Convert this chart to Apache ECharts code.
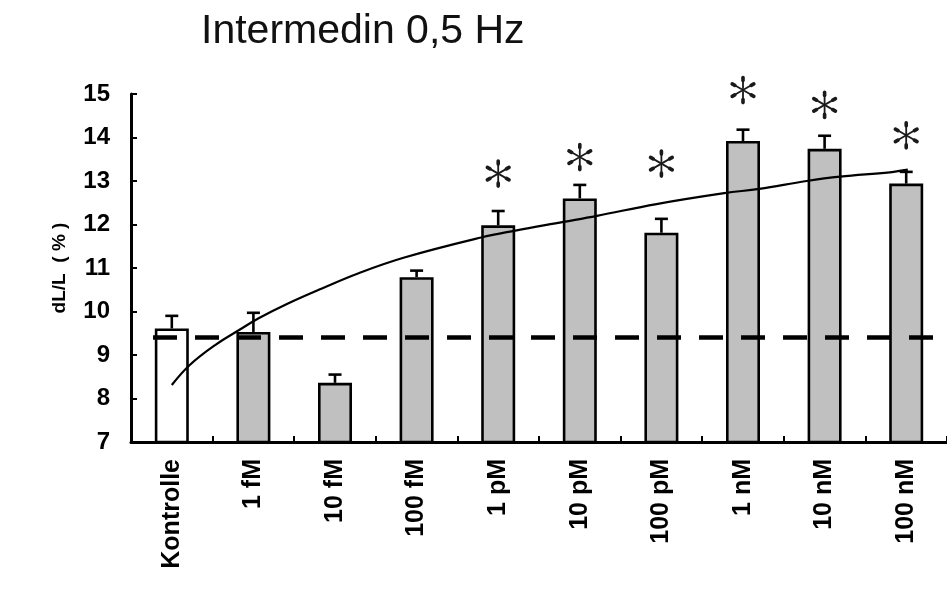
<!DOCTYPE html>
<html>
<head>
<meta charset="utf-8">
<script src="https://cdn.jsdelivr.net/npm/echarts@6/dist/echarts.min.js"></script>
<style>
  html, body { margin: 0; padding: 0; background: #ffffff; }
  #chart { width: 947px; height: 592px; }
</style>
</head>
<body>
<div id="chart"></div>
<script>
// Concentrations of intermedin (plus the untreated control)
var categories = ['Kontrolle', '1 fM', '10 fM', '100 fM', '1 pM', '10 pM', '100 pM', '1 nM', '10 nM', '100 nM'];
// Mean shortening dL/L (%) per group
var means = [9.61, 9.53, 8.36, 10.79, 11.98, 12.60, 11.81, 13.92, 13.74, 12.94];
// Standard error of the mean per group
var errors = [0.29, 0.44, 0.19, 0.15, 0.33, 0.31, 0.32, 0.26, 0.30, 0.27];
// Height at which the significance asterisk sits (null = not significant)
var starLevels = [null, null, null, null, 13.17, 13.55, 13.40, 15.09, 14.75, 14.05];
// Control baseline drawn as the dashed reference line
var baseline = 9.4;
var baselineFrom = -0.23;
var baselineTo = 9.6;
// Concentration-response fit, sampled along the category positions
var fitX = [0, 0.22, 0.54, 0.83, 1.07, 1.43, 1.84, 2.29, 2.85, 3.79, 4.21, 4.80, 5.21, 5.94, 6.77, 7.20, 7.78, 8.19, 8.80, 9.02];
var fitY = [8.31, 8.77, 9.24, 9.58, 9.85, 10.19, 10.53, 10.88, 11.24, 11.70, 11.86, 12.06, 12.20, 12.47, 12.72, 12.82, 13.00, 13.10, 13.20, 13.26];
// Y axis ticks
var yMin = 7, yMax = 15, yStep = 1;

var chart = echarts.init(document.getElementById('chart'), null, { renderer: 'canvas' });

var barData = means.map(function (v, i) {
  return {
    value: v,
    itemStyle: { color: i === 0 ? '#ffffff' : '#c0c0c0' }
  };
});

var errData = means.map(function (v, i) { return [i, v, errors[i]]; });
var starData = [];
starLevels.forEach(function (s, i) { if (s !== null) starData.push([i, s]); });
var fitData = fitX.map(function (x, i) { return [x, fitY[i]]; });

var axisFont = 'Liberation Sans, Arial, sans-serif';

// Six-armed asterisk with slightly swollen tips
function asterisk(cx, cy) {
  var r = 12.5;
  var kids = [];
  for (var k = 0; k < 6; k++) {
    var a = Math.PI / 2 + k * Math.PI / 3;
    var tx = cx + Math.cos(a) * r;
    var ty = cy - Math.sin(a) * r;
    var mx = cx + Math.cos(a) * 2;
    var my = cy - Math.sin(a) * 2;
    kids.push({ type: 'line', shape: { x1: mx, y1: my, x2: tx, y2: ty },
      style: { stroke: '#1a1a1a', lineWidth: 1.8, lineCap: 'round' } });
    var ex = cx + Math.cos(a) * (r - 3);
    var ey = cy - Math.sin(a) * (r - 3);
    kids.push({ type: 'line', shape: { x1: ex, y1: ey, x2: tx, y2: ty },
      style: { stroke: '#1a1a1a', lineWidth: 3.6, lineCap: 'round' } });
  }
  kids.push({ type: 'circle', shape: { cx: cx, cy: cy, r: 1.8 }, style: { fill: '#1a1a1a' } });
  return kids;
}

chart.setOption({
  animation: false,
  backgroundColor: '#ffffff',
  title: {
    text: 'Intermedin 0,5 Hz',
    left: 196,
    top: 6,
    textStyle: {
      fontFamily: axisFont,
      fontWeight: 'normal',
      fontSize: 41,
      color: '#111111'
    }
  },
  grid: { left: 131, right: -6, top: 94, bottom: 150, containLabel: false },
  xAxis: [{
    type: 'category',
    data: categories,
    boundaryGap: true,
    axisLine: { show: true, onZero: false, lineStyle: { color: '#000000', width: 3 } },
    axisTick: { show: true, inside: true, length: 6, lineStyle: { color: '#000000', width: 2 } },
    axisLabel: {
      rotate: 90,
      margin: 17,
      fontFamily: axisFont,
      fontWeight: 'bold',
      fontSize: 25,
      color: '#000000'
    },
    splitLine: { show: false }
  }, {
    type: 'value',
    min: -0.5,
    max: 9.5,
    show: false
  }],
  yAxis: {
    type: 'value',
    min: yMin,
    max: yMax,
    interval: yStep,
    name: 'dL/L  ( % )',
    nameLocation: 'middle',
    nameRotate: 90,
    nameGap: 62,
    nameTextStyle: {
      fontFamily: axisFont,
      fontWeight: 'bold',
      fontSize: 19,
      color: '#000000'
    },
    axisLine: { show: true, onZero: false, lineStyle: { color: '#000000', width: 3 } },
    axisTick: { show: true, inside: true, length: 6, lineStyle: { color: '#000000', width: 2 } },
    axisLabel: {
      margin: 21,
      fontFamily: axisFont,
      fontWeight: 'bold',
      fontSize: 24,
      color: '#000000'
    },
    splitLine: { show: false }
  },
  series: [
    {
      name: 'means',
      type: 'bar',
      xAxisIndex: 0,
      data: barData,
      barWidth: 34,
      itemStyle: { borderColor: '#000000', borderWidth: 2.6 },
      z: 2
    },
    {
      name: 'sem',
      type: 'custom',
      xAxisIndex: 0,
      data: errData,
      z: 1,
      renderItem: function (params, api) {
        var i = api.value(0);
        var top = api.coord([i, api.value(1) + api.value(2)]);
        var base = api.coord([i, api.value(1)]);
        var half = 6.5;
        return {
          type: 'group',
          children: [
            { type: 'line', shape: { x1: base[0], y1: base[1], x2: top[0], y2: top[1] },
              style: { stroke: '#000000', lineWidth: 2.6 } },
            { type: 'line', shape: { x1: top[0] - half, y1: top[1], x2: top[0] + half, y2: top[1] },
              style: { stroke: '#000000', lineWidth: 2.6 } }
          ]
        };
      }
    },
    {
      name: 'significance',
      type: 'custom',
      xAxisIndex: 0,
      data: starData,
      z: 5,
      renderItem: function (params, api) {
        var p = api.coord([api.value(0), api.value(1)]);
        return { type: 'group', children: asterisk(p[0], p[1]) };
      }
    },
    {
      name: 'baseline',
      type: 'line',
      xAxisIndex: 1,
      data: [[baselineFrom, baseline], [baselineTo, baseline]],
      symbol: 'none',
      lineStyle: { color: '#000000', width: 4.5, type: [24, 18] },
      z: 4
    },
    {
      name: 'fit',
      type: 'line',
      xAxisIndex: 1,
      data: fitData,
      smooth: 0.4,
      symbol: 'none',
      lineStyle: { color: '#000000', width: 2.2 },
      z: 6
    }
  ]
});
</script>
</body>
</html>
